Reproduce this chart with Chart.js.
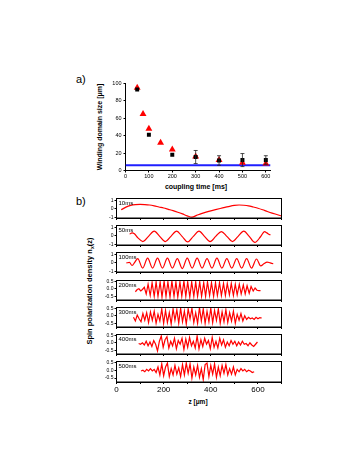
<!DOCTYPE html>
<html>
<head>
<meta charset="utf-8">
<script src="https://cdn.jsdelivr.net/npm/chart.js@4.4.0/dist/chart.umd.min.js"></script>
<style>
  body { margin: 0; background: #fff; }
  #fig { position: relative; width: 360px; height: 466px; overflow: hidden; font-family: "Liberation Sans", Arial, sans-serif; color: #000; }
  canvas { position: absolute; }
  .t { position: absolute; white-space: nowrap; }
  .ctr { transform: translate(-50%, -50%); }
  .rot { transform: translate(-50%, -50%) rotate(-90deg); }
  .b { font-weight: bold; }
  sub { font-size: 70%; vertical-align: -2px; }
</style>
</head>
<body>
<div id="fig">
  <div class="t" style="left:76px;top:73px;font-size:11px;">a)</div>
  <div class="t" style="left:76px;top:195px;font-size:11px;">b)</div>
  <div class="t b rot" style="left:99px;top:127px;font-size:7px;">Winding domain size [μm]</div>
  <div class="t b ctr" style="left:196px;top:186px;font-size:7px;">coupling time [ms]</div>
  <div class="t b rot" style="left:90px;top:291px;font-size:7.5px;">Spin polarization density n<sub>x</sub>(z)</div>
  <div class="t b ctr" style="left:198px;top:401px;font-size:6.5px;">z [μm]</div>
</div>
<script>
// a) winding domain size vs coupling time
const simTimes = [50, 75, 100, 150, 200, 300, 400, 500, 600];
const simSize = [95, 65, 48, 32, 24, 16, 12, 9, 8];
const expTimes = [50, 100, 200, 300, 400, 500, 600];
const expSize = [93, 41, 18, 15.5, 11.5, 12, 12];
const expErr = [0, 0, 0, 7.5, 5.5, 7.5, 5];
const healingLength = 6;
const timeTicks = [0, 100, 200, 300, 400, 500, 600];
const sizeTicks = [0, 20, 40, 60, 80, 100];

// b) spin polarization profiles
const panelLabels = ["10ms", "50ms", "100ms", "200ms", "300ms", "400ms", "500ms"];
const z10 = [20,40,60,80,100,120,140,160,180,200,220,240,260,280,300,320,340,360,380,400,420,440,460,480,500,520,540,560,580,600,620,640,660,680,700];
const n10 = [-0.1,0.2,0.4,0.5,0.52,0.5,0.45,0.35,0.22,0.1,-0.05,-0.2,-0.38,-0.58,-0.8,-0.95,-0.75,-0.55,-0.38,-0.22,-0.08,0.05,0.17,0.3,0.4,0.45,0.42,0.35,0.22,0.08,-0.1,-0.3,-0.48,-0.65,-0.82];
const z50 = [56,66,76,90,112,136,160,183,207,231,255,278,302,326,350,373,397,421,445,468,492,516,540,563,587,611,628,638,646,653];
const n50 = [0.2,0.35,0.25,-0.2,-0.65,-0.05,0.55,-0.05,-0.65,-0.05,0.55,-0.05,-0.7,-0.05,0.55,-0.05,-0.65,-0.05,0.5,-0.05,-0.65,-0.05,0.55,-0.05,-0.75,-0.1,0.5,0.35,0.2,0.12];
const z100 = [42,55,66,78,90,111,132,153,174,195,216,237,258,279,300,321,342,363,384,405,426,447,468,489,510,531,552,573,594,612,625,639,652,665];
const n100 = [0.0,0.05,-0.3,0.1,0.5,-0.6,0.55,-0.6,0.55,-0.6,0.55,-0.6,0.5,-0.65,0.55,-0.6,0.55,-0.6,0.5,-0.6,0.55,-0.6,0.5,-0.6,0.5,-0.6,0.5,-0.6,0.45,-0.35,-0.1,0.1,0.0,-0.1];
const z200 = [80,88,95,103,110,118,126,134,143,151,160,168,176,185,193,202,210,218,227,235,244,252,260,269,277,286,294,302,311,319,328,336,344,353,361,370,378,386,395,403,412,420,428,437,445,454,462,470,479,487,496,504,512,521,529,538,546,554,563,571,580,588,596,604,611];
const n200 = [-0.2,-0.05,0.0,-0.15,-0.05,0.1,
  -0.35,0.3,-0.45,0.4,-0.5,0.45,-0.5,0.45,-0.55,0.5,
  -0.5,0.45,-0.55,0.5,-0.5,0.45,-0.55,0.45,-0.5,0.5,
  -0.5,0.45,-0.55,0.45,-0.5,0.45,-0.5,0.45,-0.5,0.4,
  -0.5,0.45,-0.45,0.4,-0.5,0.4,-0.45,0.4,-0.45,0.35,
  -0.45,0.35,-0.4,0.35,-0.45,0.3,-0.4,0.3,-0.35,0.25,
  -0.35,0.2,-0.3,0.15,
  -0.15,0.05,-0.1,-0.12,-0.13];
const z300 = [72,80,88,96,104,112,120,128,136,144,152,160,168,176,184,192,200,208,216,224,232,240,248,256,264,272,280,288,296,304,312,320,328,336,344,352,360,368,376,384,392,400,408,416,424,432,440,448,456,464,472,480,488,496,504,512,520,528,536,544,552,560,568,576,584,592,600,608,616];
const n300 = [-0.1,-0.35,0.05,-0.2,-0.4,0.15,-0.3,0.2,-0.45,0.25,
  -0.3,0.3,-0.5,0.1,-0.35,0.45,-0.5,0.35,-0.45,0.2,
  -0.55,0.45,-0.3,0.4,-0.5,0.5,-0.4,0.3,-0.55,0.45,
  -0.2,0.5,-0.45,0.2,-0.5,0.55,-0.35,0.45,-0.5,0.3,
  -0.4,0.5,-0.45,0.35,-0.3,0.45,-0.5,0.25,-0.4,0.4,
  -0.45,0.2,-0.35,0.3,-0.5,0.1,-0.3,0.15,-0.35,0.0,
  -0.25,-0.1,-0.2,-0.15,-0.25,-0.1,-0.2,-0.12,-0.15];
const z400 = [94,102,110,118,126,134,142,150,158,166,174,182,190,198,206,214,222,230,238,246,254,262,270,278,286,294,302,310,318,326,334,342,350,358,366,374,382,390,398,406,414,422,430,438,446,454,462,470,478,486,494,502,510,518,526,534,542,550,558,566,574,582,590,598];
const n400 = [-0.05,-0.1,0.0,-0.15,0.1,-0.2,0.05,-0.25,0.15,-0.1,
  -0.55,0.1,0.45,-0.3,0.2,0.4,-0.35,0.1,-0.2,0.3,
  -0.4,0.15,-0.1,0.3,-0.45,0.25,-0.3,0.35,-0.2,0.1,
  -0.35,0.45,-0.4,0.2,-0.25,0.3,-0.1,0.15,-0.4,0.35,
  -0.3,0.1,-0.35,0.3,-0.15,0.2,-0.3,0.05,-0.2,0.15,
  -0.1,0.1,-0.2,0.05,-0.15,0.1,-0.1,-0.05,-0.2,0.0,
  -0.15,-0.25,-0.1,0.05];
const z500 = [104,112,120,128,136,144,152,160,168,176,184,192,200,208,216,224,232,240,248,256,264,272,280,288,296,304,312,320,328,336,344,352,360,368,376,384,392,400,408,416,424,432,440,448,456,464,472,480,488,496,504,512,520,528,536,544,552,560,568,576,584];
const n500 = [-0.05,0.0,-0.1,0.05,-0.05,0.1,-0.05,0.05,-0.15,0.2,
  -0.3,0.4,-0.35,0.2,0.45,-0.4,0.1,-0.3,0.3,-0.25,
  0.15,-0.4,0.35,-0.3,0.45,-0.2,0.4,-0.5,0.2,-0.3,
  0.3,-0.45,0.1,-0.6,0.35,0.45,-0.4,0.3,-0.25,0.4,
  -0.45,0.2,-0.35,0.3,-0.2,0.35,-0.3,0.1,-0.25,0.2,
  -0.3,0.05,-0.1,0.1,-0.05,0.05,-0.1,0.0,-0.05,-0.15,
  -0.1];
const panelZ = [z10, z50, z100, z200, z300, z400, z500];
const panelN = [n10, n50, n100, n200, n300, n400, n500];
const zTicks = [0, 100, 200, 300, 400, 500, 600, 700];
const zTickLabels = [0, 200, 400, 600];
const bigTicks = [-1, 0, 1];
const smallTicks = [-0.5, 0, 0.5];

Chart.defaults.font.family = '"Liberation Sans", Arial, sans-serif';
Chart.defaults.color = "#000";

const fig = document.getElementById("fig");

function addCanvas(left, top, w, h) {
  const c = document.createElement("canvas");
  c.width = w;
  c.height = h;
  c.style.left = left + "px";
  c.style.top = top + "px";
  fig.appendChild(c);
  return c;
}

// error bars for the black points
const errorBars = {
  id: "errorBars",
  afterDatasetsDraw(chart) {
    const { ctx, scales } = chart;
    ctx.save();
    ctx.strokeStyle = "#222";
    ctx.lineWidth = 0.8;
    expTimes.forEach((t, i) => {
      if (!expErr[i]) return;
      const x = scales.x.getPixelForValue(t);
      const y1 = scales.y.getPixelForValue(expSize[i] + expErr[i]);
      const y2 = scales.y.getPixelForValue(expSize[i] - expErr[i]);
      ctx.beginPath();
      ctx.moveTo(x, y1); ctx.lineTo(x, y2);
      ctx.moveTo(x - 2, y1); ctx.lineTo(x + 2, y1);
      ctx.moveTo(x - 2, y2); ctx.lineTo(x + 2, y2);
      ctx.stroke();
    });
    ctx.restore();
  },
};

// top chart: plot area 125.5..270.5 x 83.5..170.5
new Chart(addCanvas(95, 76, 185, 104), {
  type: "scatter",
  data: {
    datasets: [
      {
        data: expTimes.map((t, i) => ({ x: t, y: expSize[i] })),
        pointStyle: "rect",
        pointRadius: 2.8,
        backgroundColor: "#000",
        borderColor: "#000",
        borderWidth: 0,
      },
      {
        data: simTimes.map((t, i) => ({ x: t, y: simSize[i] })),
        pointStyle: "triangle",
        pointRadius: 4,
        backgroundColor: "#ff0000",
        borderColor: "#ff0000",
        borderWidth: 0,
      },
      {
        data: [{ x: 0, y: healingLength }, { x: 620, y: healingLength }],
        showLine: true,
        borderColor: "#1f1fff",
        borderWidth: 2,
        pointRadius: 0,
      },
    ],
  },
  options: {
    responsive: false,
    animation: false,
    events: [],
    layout: { padding: { top: 7.5, right: 9.5, left: 0, bottom: 0 }, autoPadding: false },
    plugins: { legend: { display: false }, tooltip: { enabled: false } },
    scales: {
      x: {
        type: "linear", min: 0, max: 620,
        afterFit: (s) => { s.height = 9.5; },
        afterBuildTicks: (s) => { s.ticks = timeTicks.map((v) => ({ value: v })); },
        grid: { drawOnChartArea: false, tickLength: 2, color: "#000" },
        border: { color: "#000", width: 1 },
        ticks: { font: { size: 5.5 }, padding: 1, maxRotation: 0, autoSkip: false },
      },
      y: {
        min: 0, max: 100,
        afterFit: (s) => { s.width = 30.5; },
        afterBuildTicks: (s) => { s.ticks = sizeTicks.map((v) => ({ value: v })); },
        grid: { drawOnChartArea: false, tickLength: 2, color: "#000" },
        border: { color: "#000", width: 1 },
        ticks: { font: { size: 5.5 }, padding: 2 },
      },
    },
  },
  plugins: [errorBars],
});

// bottom panels: plot area 116.5..281.5, height 21
const panelTops = [198, 225, 252, 280, 307, 334, 361];
const PANEL_H = 21;

panelTops.forEach((top, i) => {
  const last = i === panelTops.length - 1;
  const xh = last ? 14 : 3;
  const big = i < 3;
  const yTicks = big ? bigTicks : smallTicks;
  const frame = {
    id: "frame" + i,
    afterDraw(chart) {
      const { ctx, chartArea: a } = chart;
      ctx.save();
      ctx.strokeStyle = "#000";
      ctx.lineWidth = 1;
      ctx.strokeRect(a.left, a.top, a.right - a.left, a.bottom - a.top);
      ctx.fillStyle = "#000";
      ctx.font = '6px "Liberation Sans", Arial, sans-serif';
      ctx.textBaseline = "top";
      ctx.fillText(panelLabels[i], a.left + 2, a.top + 1.5);
      ctx.restore();
    },
  };
  new Chart(addCanvas(92, top - 4, 195, 4.5 + PANEL_H + xh), {
    type: "line",
    data: {
      datasets: [{
        data: panelZ[i].map((z, k) => ({ x: z, y: panelN[i][k] })),
        borderColor: "#ff0000",
        borderWidth: 1.2,
        pointRadius: 0,
        cubicInterpolationMode: big ? "monotone" : "default",
        tension: 0,
      }],
    },
    options: {
      responsive: false,
      animation: false,
      events: [],
      layout: { padding: { top: 4.5, right: 5.5, left: 0, bottom: 0 }, autoPadding: false },
      plugins: { legend: { display: false }, tooltip: { enabled: false } },
      scales: {
        x: {
          type: "linear", min: 0, max: 700,
          afterFit: (s) => { s.height = xh; },
          afterBuildTicks: (s) => { s.ticks = zTicks.map((v) => ({ value: v })); },
          grid: { drawOnChartArea: false, tickLength: 2, color: "#000" },
          border: { color: "#000", width: 1 },
          ticks: {
            display: last, font: { size: 8 }, padding: 1, maxRotation: 0, autoSkip: false,
            callback: (v) => (zTickLabels.includes(v) ? String(v) : ""),
          },
        },
        y: {
          min: big ? -1.05 : -0.75,
          max: big ? 1.2 : 0.55,
          afterFit: (s) => { s.width = 24.5; },
          afterBuildTicks: (s) => { s.ticks = yTicks.map((v) => ({ value: v })); },
          grid: { drawOnChartArea: false, tickLength: 2, color: "#000" },
          border: { color: "#000", width: 1 },
          ticks: {
            font: { size: 5 }, padding: 1,
            callback: (v) => (big ? String(v) : v.toFixed(1)),
          },
        },
      },
    },
    plugins: [frame],
  });
});
</script>
</body>
</html>
